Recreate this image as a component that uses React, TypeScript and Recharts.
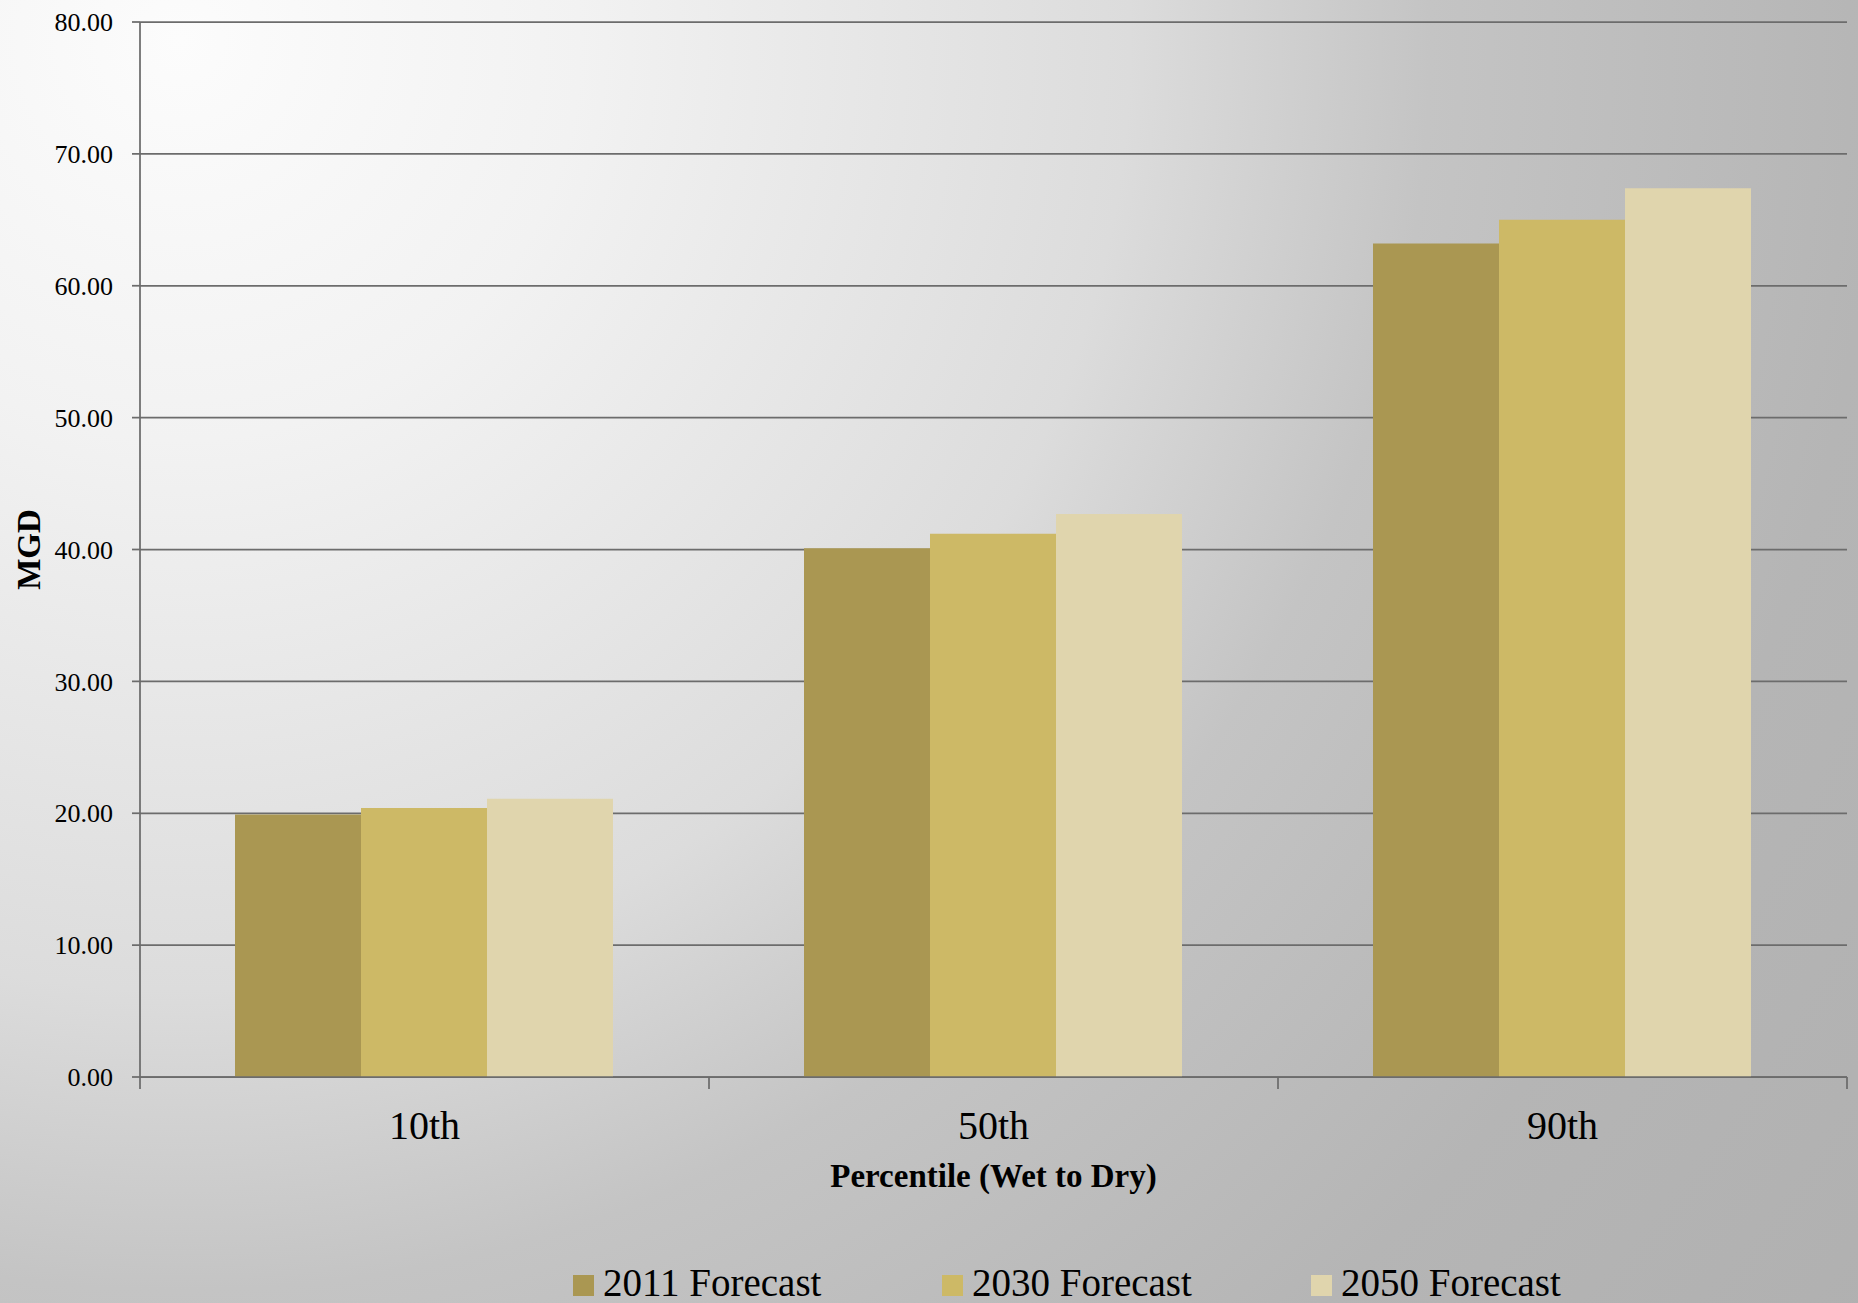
import React from 'react';
import { BarChart, Bar, XAxis, YAxis, CartesianGrid, Legend, Label } from 'recharts';

// Percentile categories (wet to dry)
const categories = ['10th', '50th', '90th'];

// Demand forecasts in MGD for each percentile
const forecast2011 = [19.9, 40.1, 63.2];
const forecast2030 = [20.4, 41.2, 65.0];
const forecast2050 = [21.1, 42.7, 67.4];

const seriesNames = ['2011 Forecast', '2030 Forecast', '2050 Forecast'];
const seriesKeys = ['f2011', 'f2030', 'f2050'];
const seriesColors = ['#aa9752', '#cdb966', '#e0d5ad'];

const yTicks = [0, 10, 20, 30, 40, 50, 60, 70, 80];

const data = categories.map((category, i) => ({
  category,
  f2011: forecast2011[i],
  f2030: forecast2030[i],
  f2050: forecast2050[i],
}));

const FONT = "'Liberation Serif', 'Times New Roman', serif";
const LINE = '#6c6c6c';
const LINE_W = 1.75;
const W = 1858;
const H = 1303;

// Category label plus tick marks on the boundaries between categories
const CategoryTick = (props: any) => {
  const { x, y, payload, index, visibleTicksCount, width } = props;
  const count = visibleTicksCount || categories.length;
  const band = (width || 0) / count;
  const left = x - band / 2;
  const right = x + band / 2;
  return (
    <g>
      <line x1={left} y1={y} x2={left} y2={y + 12} stroke={LINE} strokeWidth={LINE_W} />
      {index === count - 1 && (
        <line x1={right} y1={y} x2={right} y2={y + 12} stroke={LINE} strokeWidth={LINE_W} />
      )}
      <text x={x} y={y + 62} textAnchor="middle" fontSize={40} fontFamily={FONT} fill="#000">
        {payload.value}
      </text>
    </g>
  );
};

const XTitle = (props: any) => {
  const vb = props.viewBox || {};
  return (
    <text
      x={vb.x + vb.width / 2}
      y={vb.y + 110}
      textAnchor="middle"
      fontSize={33}
      fontWeight="bold"
      fontFamily={FONT}
      fill="#000"
    >
      Percentile (Wet to Dry)
    </text>
  );
};

const YTitle = (props: any) => {
  const vb = props.viewBox || {};
  const cy = vb.y + vb.height / 2;
  return (
    <text
      x={40}
      y={cy}
      transform={`rotate(-90, 40, ${cy})`}
      textAnchor="middle"
      fontSize={33}
      fontWeight="bold"
      fontFamily={FONT}
      fill="#000"
    >
      MGD
    </text>
  );
};

const LegendContent = () => (
  <div style={{ position: 'relative', width: W, height: 40 }}>
    {seriesNames.map((name, i) => (
      <div
        key={name}
        style={{
          position: 'absolute',
          left: 573 + i * 369,
          top: 0,
          height: 40,
          display: 'flex',
          alignItems: 'flex-start',
          whiteSpace: 'nowrap',
        }}
      >
        <div style={{ width: 21, height: 21, marginTop: 12, background: seriesColors[i] }} />
        <span
          style={{
            marginLeft: 9,
            fontFamily: FONT,
            fontSize: 39,
            lineHeight: '40px',
            color: '#000',
          }}
        >
          {name}
        </span>
      </div>
    ))}
  </div>
);

export default function App() {
  return (
    <div
      style={{
        position: 'absolute',
        left: 0,
        top: 0,
        width: W,
        height: H,
        overflow: 'hidden',
        background:
          'radial-gradient(circle at 180px 40px, #fcfcfc 0px, #f2f2f2 400px, #dcdcdc 950px, #c4c4c4 1250px, #b5b5b5 1700px, #b0b0b0 2150px)',
      }}
    >
      <BarChart
        width={W}
        height={H}
        data={data}
        margin={{ top: 22, right: 11, bottom: 0, left: 0 }}
        barCategoryGap={95}
        barGap={0}
      >
        <CartesianGrid vertical={false} stroke={LINE} strokeWidth={LINE_W} />
        <XAxis
          dataKey="category"
          height={186}
          axisLine={{ stroke: LINE, strokeWidth: LINE_W }}
          tickLine={false}
          tickSize={0}
          tickMargin={0}
          tick={CategoryTick}
          interval={0}
        >
          <Label content={XTitle} />
        </XAxis>
        <YAxis
          width={140}
          domain={[0, 80]}
          ticks={yTicks}
          interval={0}
          tickFormatter={(v: number) => v.toFixed(2)}
          axisLine={{ stroke: LINE, strokeWidth: LINE_W }}
          tickLine={{ stroke: LINE, strokeWidth: LINE_W }}
          tickSize={8}
          tickMargin={19}
          tick={{ fontSize: 26, fontFamily: FONT, fill: '#000' }}
        >
          <Label content={YTitle} />
        </YAxis>
        <Legend
          verticalAlign="bottom"
          height={40}
          content={LegendContent}
          wrapperStyle={{ left: 0, bottom: 0, width: W, height: 40 }}
        />
        {seriesKeys.map((key, i) => (
          <Bar
            key={key}
            dataKey={key}
            name={seriesNames[i]}
            fill={seriesColors[i]}
            isAnimationActive={false}
          />
        ))}
      </BarChart>
    </div>
  );
}
